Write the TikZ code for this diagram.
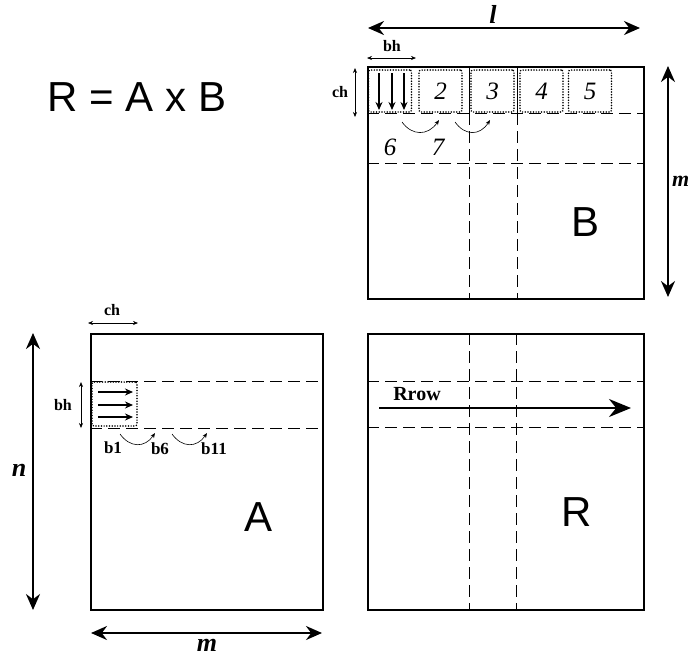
\documentclass[tikz,border=0pt]{standalone}
\usepackage{fontspec}
\setmainfont{Liberation Serif}
\setsansfont{Liberation Sans}
\usetikzlibrary{arrows.meta}
\begin{document}
\begin{tikzpicture}[x=1pt,y=-1pt,
 frame/.style={draw, line width=1.8pt, inner sep=0pt, anchor=north west},
 dsh/.style={line width=1pt, dash pattern=on 12pt off 6pt},
 thinline/.style={line width=0.9pt},
 dotbox/.style={draw, line width=1.6pt, dash pattern=on 0.1pt off 2.6pt, line cap=round, rounded corners=2pt, inner sep=0pt, minimum width=43pt, minimum height=42pt, font=\itshape\fontsize{25}{25}\selectfont},
 dimbig/.style={line width=2pt, {Stealth[length=16pt,width=14pt]}-{Stealth[length=16pt,width=14pt]}},
 dimsmall/.style={line width=0.6pt, {Stealth[length=5pt,width=4pt]}-{Stealth[length=5pt,width=4pt]}},
 flow/.style={line width=1.4pt, -{Stealth[length=8pt,width=7pt]}},
 curv/.style={line width=0.6pt, -{Stealth[length=5pt,width=4pt]}},
 bigl/.style={inner sep=0pt, font=\sffamily\fontsize{42}{42}\selectfont},
 lbl/.style={inner sep=0pt, font=\bfseries\fontsize{16}{16}\selectfont},
 blbl/.style={inner sep=0pt, font=\bfseries\fontsize{17}{17}\selectfont},
 dimlbl/.style={inner sep=0pt, font=\bfseries\itshape\fontsize{26}{26}\selectfont},
 numlbl/.style={inner sep=0pt, font=\itshape\fontsize{25}{25}\selectfont}
]
\useasboundingbox (0,0) rectangle (689,657);

% title
\node[bigl] (title) at (137,97) {R = A x B};

% ---------- matrix B ----------
\node[frame, minimum width=276pt, minimum height=232pt] (B) at (367,66) {};
\draw[thinline] (469,66) -- (469,113);
\draw[thinline] (517,66) -- (517,113);
\draw[dsh] (367,113) -- (643,113);
\draw[dsh] (367,163) -- (643,163);
\draw[dsh] (469,113) -- (469,298);
\draw[dsh] (517,113) -- (517,298);
\node[dotbox] (b1) at (390,91) {};
\node[dotbox] (b2) at (440.5,91) {2};
\node[dotbox] (b3) at (492.5,91) {3};
\node[dotbox] (b4) at (541.5,91) {4};
\node[dotbox] (b5) at (590,91) {5};
\foreach \x/\n in {379/1,392/2,404/3}{
  \coordinate (ds\n) at (\x,73);
  \coordinate (de\n) at (\x,110);
  \draw[flow] (ds\n) -- (de\n);
}
\node[numlbl] (n6) at (390,147) {6};
\node[numlbl] (n7) at (438,147) {7};
\coordinate (c1s) at (402,122); \coordinate (c1e) at (439,120);
\coordinate (c2s) at (455,122); \coordinate (c2e) at (490,120);
\draw[curv] (c1s) .. controls (412,136) and (428,136) .. (c1e);
\draw[curv] (c2s) .. controls (465,136) and (480,136) .. (c2e);
\node[bigl] (Blab) at (586,222) {B};

% B dimensions
\coordinate (l1) at (368,28); \coordinate (l2) at (640,28);
\draw[dimbig] (l1) -- (l2);
\node[dimlbl] (ltext) at (493,14) {l};
\coordinate (bh1) at (367,58); \coordinate (bh2) at (416,58);
\draw[dimsmall] (bh1) -- (bh2);
\node[lbl] (bhB) at (392,46) {bh};
\coordinate (ch1) at (355,68); \coordinate (ch2) at (355,117);
\draw[dimsmall] (ch1) -- (ch2);
\node[lbl] (chB) at (340,92) {ch};
\coordinate (mr1) at (668,66); \coordinate (mr2) at (668,297);
\draw[dimbig] (mr1) -- (mr2);
\node[dimlbl, anchor=west, font=\bfseries\itshape\fontsize{22}{22}\selectfont] (mB) at (672,181) {m};

% ---------- matrix A ----------
\node[frame, minimum width=232pt, minimum height=276pt] (A) at (90,333) {};
\draw[dsh] (90,381) -- (322,381);
\draw[dsh] (90,428) -- (322,428);
\node[draw, line width=1.6pt, dash pattern=on 0.1pt off 2.6pt, line cap=round, rounded corners=2pt, inner sep=0pt, minimum width=45pt, minimum height=44pt] (a1) at (114.5,404) {};
\foreach \y/\n in {392/1,405/2,417/3}{
  \coordinate (as\n) at (98,\y);
  \coordinate (ae\n) at (133,\y);
  \draw[flow] (as\n) -- (ae\n);
}
\node[blbl] (ab1) at (113,448) {b1};
\node[blbl] (ab6) at (160,449) {b6};
\node[blbl] (ab11) at (214,449) {b11};
\coordinate (ac1s) at (120,434); \coordinate (ac1e) at (155,433);
\coordinate (ac2s) at (172,434); \coordinate (ac2e) at (207,433);
\draw[curv] (ac1s) .. controls (130,448) and (145,448) .. (ac1e);
\draw[curv] (ac2s) .. controls (182,448) and (197,448) .. (ac2e);
\node[bigl] (Alab) at (259,517) {A};

% A dimensions
\coordinate (cha1) at (88,323); \coordinate (cha2) at (138,323);
\draw[dimsmall] (cha1) -- (cha2);
\node[lbl] (chA) at (112,310) {ch};
\coordinate (bha1) at (81,382); \coordinate (bha2) at (81,428);
\draw[dimsmall] (bha1) -- (bha2);
\node[lbl] (bhA) at (63,405) {bh};
\coordinate (n1) at (33,333); \coordinate (n2) at (33,610);
\draw[dimbig] (n1) -- (n2);
\node[dimlbl] (nlab) at (19,470) {n};
\coordinate (ma1) at (91,633); \coordinate (ma2) at (322,633);
\draw[dimbig] (ma1) -- (ma2);
\node[dimlbl] (mA) at (207,645) {m};

% ---------- matrix R ----------
\node[frame, minimum width=276pt, minimum height=276pt] (R) at (367,333) {};
\draw[dsh] (367,381) -- (643,381);
\draw[dsh] (367,427) -- (643,427);
\draw[dsh] (469,333) -- (469,609);
\draw[dsh] (516,333) -- (516,609);
\coordinate (rr1) at (379,408); \coordinate (rr2) at (631,408);
\draw[line width=2.2pt, -{Stealth[length=22pt,width=18pt]}] (rr1) -- (rr2);
\node[inner sep=0pt, font=\bfseries\fontsize{20}{20}\selectfont] (rrow) at (417,394) {Rrow};
\node[bigl] (Rlab) at (577,512) {R};
\end{tikzpicture}
\end{document}
